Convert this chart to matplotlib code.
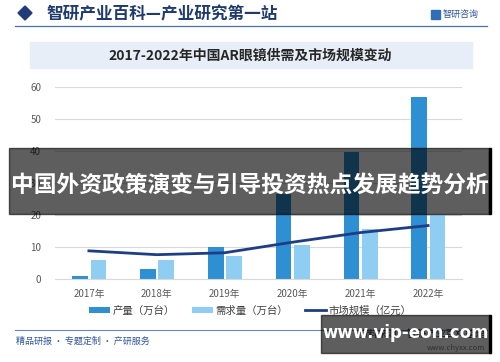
import matplotlib.pyplot as plt
import numpy as np
from matplotlib.patches import Rectangle, Polygon

plt.rcParams['font.family'] = ['Noto Sans CJK SC', 'DejaVu Sans']

# data
years = ["2017年", "2018年", "2019年", "2020年", "2021年", "2022年"]
production = [0.8, 3.2, 10.0, 26.5, 39.8, 56.8]
demand = [5.9, 6.0, 7.2, 10.5, 15.7, 19.9]
market = [8.8, 7.6, 8.2, 11.5, 14.5, 16.7]
yticks = [0, 10, 20, 30, 40, 50, 60]

W, H = 500, 362
fig = plt.figure(figsize=(5, 3.62), dpi=100)
fig.patch.set_facecolor("white")


def fx(x):
    return x / W


def fy(y):
    return 1 - y / H


# header
fig.add_artist(Polygon([[fx(18), fy(13)], [fx(25), fy(6)], [fx(32), fy(13)], [fx(25), fy(20)]],
                       closed=True, color="#1f3b7a", transform=fig.transFigure))
fig.text(fx(46), fy(14), "智研产业百科—产业研究第一站", fontsize=12, fontweight="bold",
         color="#1f3b6e", va="center", ha="left")
fig.add_artist(Rectangle((fx(431), fy(19)), fx(9), 9 / H, color="#2f6fb5", transform=fig.transFigure))
fig.text(fx(443), fy(14.5), "智研咨询", fontsize=6.5, color="#2f5597", va="center", ha="left")
fig.add_artist(plt.Line2D([fx(15), fx(487)], [fy(26), fy(26)], color="#4a6fa5", lw=0.9))

# subtitle box
fig.add_artist(Rectangle((fx(30), fy(68)), fx(442), 26 / H, color="#e8eef7",
                         transform=fig.transFigure, zorder=0))
fig.text(fx(250), fy(55.5), "2017-2022年中国AR眼镜供需及市场规模变动", fontsize=10,
         fontweight="bold", color="#262626", va="center", ha="center")

# chart
ax = fig.add_axes([fx(55), fy(279), fx(407), 192 / H])
x = np.arange(len(years))
bw = 0.23
b1 = ax.bar(x - 0.13, production, width=bw, color="#2e8fd2", label="产量（万台）", zorder=2)
b2 = ax.bar(x + 0.14, demand, width=bw, color="#8fcdf2", label="需求量（万台）", zorder=2)
l1, = ax.plot(x, market, color="#1f3d85", lw=2, label="市场规模（亿元）", zorder=3)
ax.set_xlim(-0.5, len(years) - 0.5)
ax.set_ylim(0, 60)
ax.set_yticks(yticks)
ax.set_xticks(x)
ax.set_xticklabels(years)
ax.tick_params(length=0, labelsize=7, colors="#595959")
ax.tick_params(axis="y", pad=10)
ax.tick_params(axis="x", pad=7)
ax.grid(axis="y", color="#d9d9d9", lw=0.8, zorder=0)
for s in ["top", "right", "left"]:
    ax.spines[s].set_visible(False)
ax.spines["bottom"].set_color("#d9d9d9")

ax.legend([b1, b2, l1], ["产量（万台）", "需求量（万台）", "市场规模（亿元）"],
          loc="center", bbox_to_anchor=(0.48, -0.165), ncol=3, frameon=False,
          fontsize=7.5, handlelength=2.0, columnspacing=1.6, labelcolor="#404040",
          handleheight=0.5, handletextpad=0.3)

# footer
fig.add_artist(plt.Line2D([fx(15), fx(487)], [fy(330), fy(330)], color="#6b86b5", lw=0.8))
fig.text(fx(16), fy(341), "精品研报 · 专题定制 · 产研服务", fontsize=6.5, color="#2f5597",
         va="center", ha="left")
fig.text(fx(485), fy(334), "资料来源：智研产业百科整理", fontsize=7, color="#404040",
         va="center", ha="right")
fig.text(fx(485), fy(348), "www.chyxx.com", fontsize=5.5, color="#808080",
         va="center", ha="right")

# overlay banner
fig.add_artist(Rectangle((fx(9), fy(214)), fx(480), 66 / H, color="black", alpha=0.63,
                         transform=fig.transFigure, zorder=10))
fig.add_artist(Rectangle((fx(489), fy(214)), fx(2), 66 / H, color="black",
                         transform=fig.transFigure, zorder=10))
fig.text(fx(250), fy(185), "中国外资政策演变与引导投资热点发展趋势分析", fontsize=16.4,
         fontweight="bold", color="white", va="center", ha="center", zorder=11)

fig.add_artist(Rectangle((fx(321), fy(353)), fx(169), 38 / H, color="black", alpha=0.63,
                         transform=fig.transFigure, zorder=10))
fig.add_artist(Rectangle((fx(489), fy(353)), fx(2), 38 / H, color="black",
                         transform=fig.transFigure, zorder=10))
fig.text(fx(406), fy(333), "www.vip-eon.com", fontsize=12, fontweight="bold",
         color="white", va="center", ha="center", zorder=11, family="DejaVu Sans")

fig.savefig("out.png", dpi=100)
